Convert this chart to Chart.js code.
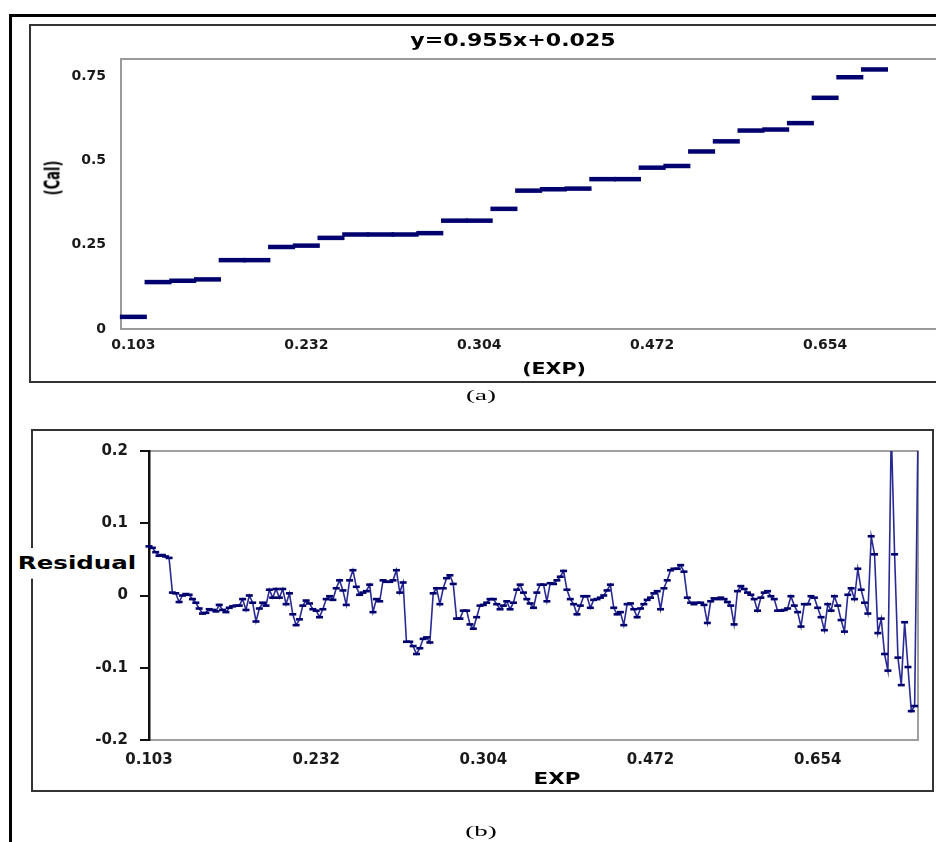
<!DOCTYPE html>
<html>
<head>
<meta charset="utf-8">
<script src="https://cdn.jsdelivr.net/npm/chart.js@4.4.0/dist/chart.umd.min.js"></script>
<style>
html, body { margin: 0; padding: 0; background: #fff; }
body { position: relative; width: 936px; height: 842px; overflow: hidden; font-family: 'DejaVu Sans', sans-serif; }
.abs { position: absolute; }
#outer { left: 9px; top: 14px; width: 1000px; height: 900px; border-left: 3px solid #000; border-top: 3px solid #000; }
#boxA { left: 29px; top: 24px; width: 1000px; height: 355px; border: 2px solid #333; }
#boxB { left: 31px; top: 429px; width: 899px; height: 359px; border: 2px solid #333; }
#chartA { left: 30px; top: 25px; }
#chartB { left: 32px; top: 430px; }
.lbl { position: absolute; white-space: nowrap; font-weight: bold; color: #000; line-height: 1.2; }
.cap { position: absolute; white-space: nowrap; font-family: 'Liberation Serif', serif; font-size: 15px; color: #000; }
</style>
</head>
<body>
<div id="outer" class="abs"></div>
<div id="boxA" class="abs"></div>
<div id="boxB" class="abs"></div>
<canvas id="chartA" class="abs" width="960" height="357"></canvas>
<canvas id="chartB" class="abs" width="902" height="362"></canvas>

<div class="lbl" style="left:513px;top:40px;font-size:17px;transform:translate(-50%,-50%) scaleX(1.3);">y=0.955x+0.025</div>
<div class="lbl" style="left:53px;top:178px;font-size:13px;transform:translate(-50%,-50%) scaleX(1.6) rotate(-90deg);">(Cal)</div>
<div class="lbl" style="left:554px;top:369px;font-size:15px;transform:translate(-50%,-50%) scaleX(1.37);">(EXP)</div>
<div class="cap" style="left:481px;top:395px;transform:translate(-50%,-50%) scaleX(1.8);">(a)</div>

<div class="lbl" style="left:77px;top:563px;font-size:17px;line-height:30px;padding:0 2px;background:#fff;transform:translate(-50%,-50%) scaleX(1.44);">Residual</div>
<div class="lbl" style="left:557px;top:779px;font-size:15px;transform:translate(-50%,-50%) scaleX(1.43);">EXP</div>
<div class="cap" style="left:481px;top:831px;transform:translate(-50%,-50%) scaleX(1.8);">(b)</div>

<script>
// x tick labels shared by both panels
const expTickLabels = ['0.103', '0.232', '0.304', '0.472', '0.654'];

// (a) calculated vs experimental, one value per dash
const calValues = [0.036, 0.139, 0.143, 0.147, 0.204, 0.204, 0.243, 0.247, 0.270,
    0.280, 0.280, 0.280, 0.284, 0.321, 0.321, 0.356, 0.410, 0.414, 0.416,
    0.444, 0.444, 0.478, 0.483, 0.526, 0.556, 0.588, 0.591, 0.610, 0.685,
    0.746, 0.769];
const calSlots = 34;
const calTickEvery = 7;
const calYTicks = [0, 0.25, 0.5, 0.75];

// (b) residuals
const residuals = [
    0.068, 0.066, 0.060, 0.055, 0.056, 0.054, 0.052, 0.004, 0.003, -0.009,
    0.000, 0.002, 0.001, -0.005, -0.010, -0.018, -0.025, -0.024, -0.019, -0.020,
    -0.022, -0.013, -0.020, -0.023, -0.017, -0.015, -0.014, -0.014, -0.005, -0.020,
    0.000, -0.010, -0.036, -0.018, -0.010, -0.014, 0.008, -0.003,
    0.009, -0.003, 0.009, -0.012, 0.003, -0.026, -0.041, -0.033, -0.014, -0.007,
    -0.011, -0.019, -0.021, -0.030, -0.019, -0.005, -0.001, -0.006, 0.010, 0.021,
    0.007, -0.013, 0.021, 0.035, 0.012, 0.001, 0.004, 0.006, 0.015, -0.023,
    -0.005, -0.008, 0.021, 0.019, 0.019, 0.021, 0.035, 0.004,
    0.018, -0.064, -0.064, -0.070, -0.081, -0.073, -0.060, -0.058, -0.065, 0.003,
    0.010, -0.012, 0.010, 0.024, 0.028, 0.016, -0.032, -0.032, -0.021, -0.021,
    -0.040, -0.046, -0.030, -0.014, -0.013, -0.010, -0.005, -0.005, -0.012, -0.019,
    -0.014, -0.008, -0.019, -0.010, 0.008, 0.015, 0.004,
    -0.005, -0.011, -0.017, 0.004, 0.015, 0.015, -0.008, 0.017, 0.016, 0.021,
    0.026, 0.034, 0.008, -0.005, -0.012, -0.026, -0.014, -0.001, -0.001, -0.017,
    -0.006, -0.005, -0.003, 0.000, 0.007, 0.015, -0.017, -0.026, -0.023, -0.041,
    -0.012, -0.011, -0.019, -0.030, -0.018, -0.012, -0.006, -0.003,
    0.003, 0.006, -0.019, 0.010, 0.021, 0.035, 0.037, 0.037, 0.042, 0.033,
    -0.003, -0.010, -0.012, -0.010, -0.010, -0.013, -0.038, -0.008, -0.004, -0.005,
    -0.003, -0.005, -0.009, -0.014, -0.040, 0.006, 0.013, 0.009, 0.004, 0.001,
    -0.005, -0.021, -0.003, 0.004, 0.006, -0.001, -0.005,
    -0.021, -0.021, -0.020, -0.018, -0.001, -0.014, -0.023, -0.043, -0.012, -0.012,
    -0.001, -0.003, -0.017, -0.030, -0.048, -0.012, -0.021, -0.001, -0.014, -0.034,
    -0.050, 0.001, 0.010, -0.005, 0.037, 0.008, -0.010, -0.025, 0.082, 0.057,
    -0.052, -0.032, -0.081, -0.104, 0.230, 0.057, -0.086, -0.124, -0.037, -0.099,
    -0.160, -0.153, 0.230
];
const residualTickEvery = 50;
const residualYTicks = [-0.2, -0.1, 0, 0.1, 0.2];

Chart.defaults.font.family = "'DejaVu Sans', sans-serif";
Chart.defaults.color = '#1a1a1a';

// grey frame round the plot area
const plotFrame = {
    id: 'plotFrame',
    beforeDraw(chart, args, opts) {
        const {ctx, chartArea: a} = chart;
        ctx.save();
        ctx.strokeStyle = opts.color;
        ctx.lineWidth = opts.width;
        ctx.strokeRect(a.left, a.top, a.right - a.left, a.bottom - a.top);
        ctx.restore();
    }
};

const makeLabels = (count, every) =>
    Array.from({length: count}, (_, i) => i % every === 0 ? (expTickLabels[i / every] || '') : '');

const calCtx = document.getElementById('chartA');
const calChart = new Chart(calCtx, {
    type: 'line',
    data: {
        labels: makeLabels(calSlots, calTickEvery),
        datasets: [{
            data: calValues,
            showLine: false,
            pointStyle: 'line',
            pointRadius: 13.5,
            pointHoverRadius: 13.5,
            pointBorderWidth: 4.5,
            pointBorderColor: '#00006e',
            clip: false
        }]
    },
    plugins: [plotFrame],
    options: {
        responsive: false,
        animation: false,
        layout: {padding: {top: 34, right: 29, left: 0, bottom: 0}},
        plugins: {
            legend: {display: false},
            tooltip: {enabled: false},
            plotFrame: {color: '#9a9a9a', width: 2}
        },
        scales: {
            x: {
                type: 'category',
                offset: true,
                grid: {display: false, drawTicks: false},
                border: {display: false},
                ticks: {autoSkip: false, maxRotation: 0, minRotation: 0, padding: 8,
                    font: {size: 14, weight: 'bold'}},
                afterFit(scale) { scale.height = 53; }
            },
            y: {
                min: 0,
                max: 0.8,
                grid: {display: false, drawTicks: false},
                border: {display: false},
                ticks: {padding: 15, font: {size: 14, weight: 'bold'}, callback: v => String(v)},
                afterBuildTicks(scale) { scale.ticks = calYTicks.map(v => ({value: v})); },
                afterFit(scale) { scale.width = 91; }
            }
        }
    }
});

const resCtx = document.getElementById('chartB');
const residualChart = new Chart(resCtx, {
    type: 'line',
    data: {
        labels: makeLabels(residuals.length, residualTickEvery),
        datasets: [{
            data: residuals,
            borderColor: '#2a2a94',
            borderWidth: 1.6,
            tension: 0,
            fill: false,
            pointStyle: 'line',
            pointRadius: 3.5,
            pointHoverRadius: 3.5,
            pointBorderWidth: 2.6,
            pointBorderColor: '#00006e'
        }]
    },
    plugins: [plotFrame],
    options: {
        responsive: false,
        animation: false,
        layout: {padding: {top: 12, right: 16, left: 0, bottom: 0}},
        plugins: {
            legend: {display: false},
            tooltip: {enabled: false},
            plotFrame: {color: '#a0a0a0', width: 2}
        },
        scales: {
            x: {
                type: 'category',
                offset: false,
                grid: {display: false, drawTicks: false},
                border: {display: false},
                ticks: {autoSkip: false, maxRotation: 0, minRotation: 0, padding: 11,
                    font: {size: 15, weight: 'bold'}},
                afterFit(scale) { scale.height = 52; }
            },
            y: {
                min: -0.2,
                max: 0.2,
                grid: {display: true, drawOnChartArea: false, drawTicks: true, tickLength: 9,
                    color: '#111', lineWidth: 2},
                border: {display: true, color: '#111', width: 2.5},
                ticks: {padding: 12, font: {size: 15, weight: 'bold'}, callback: v => String(v)},
                afterBuildTicks(scale) { scale.ticks = residualYTicks.map(v => ({value: v})); },
                afterFit(scale) { scale.width = 117; }
            }
        }
    }
});
</script>
</body>
</html>
